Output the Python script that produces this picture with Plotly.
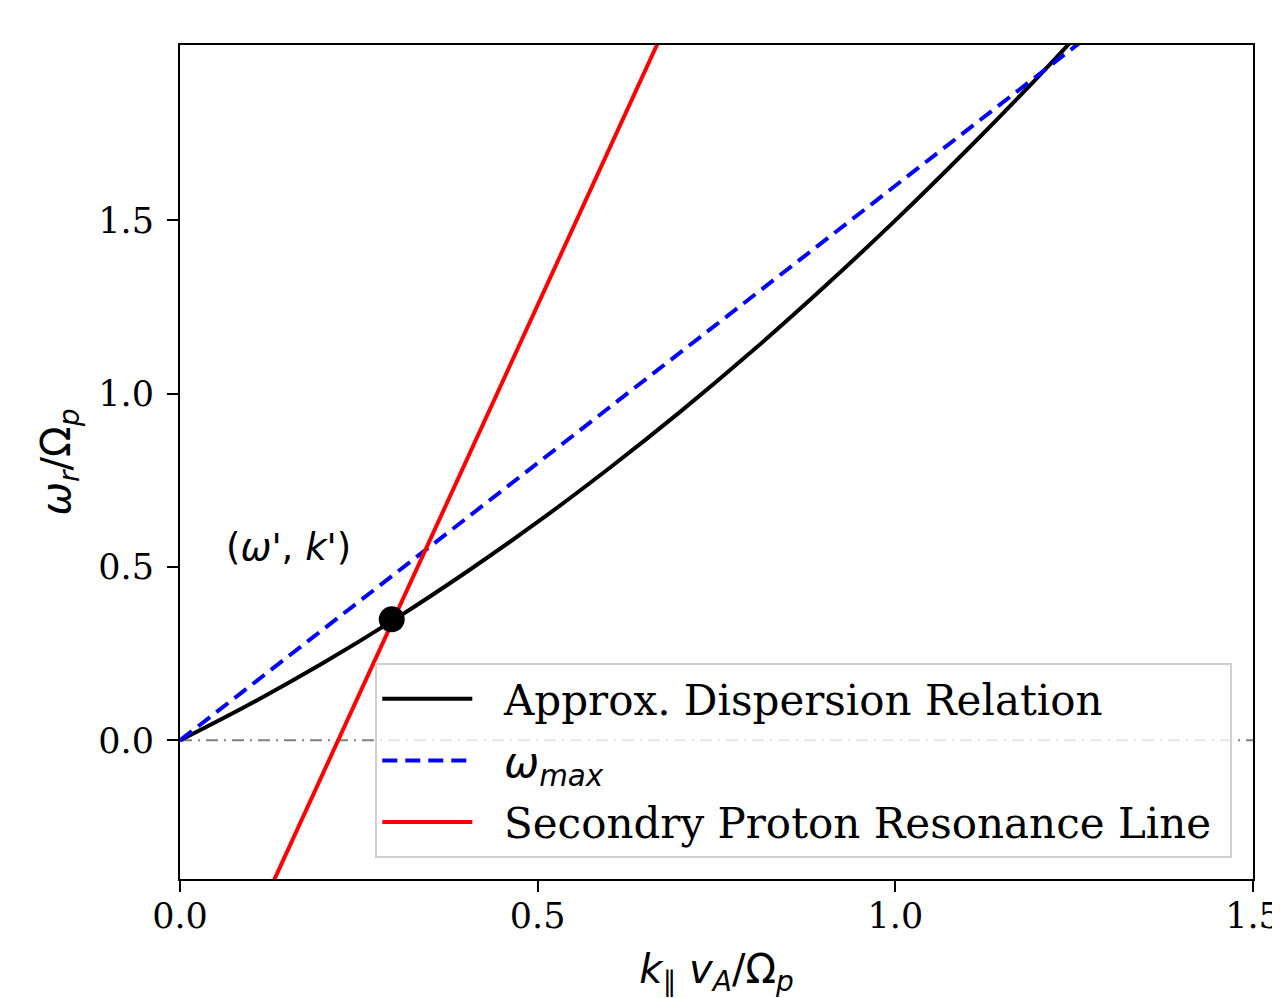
import plotly.graph_objects as go

# Approx. dispersion relation
k_disp = [0.0, 0.1, 0.2, 0.3, 0.4, 0.5, 0.6, 0.7, 0.8, 0.9, 1.0, 1.1, 1.2, 1.3]
w_disp = [0.0, 0.107, 0.223, 0.349, 0.485, 0.63, 0.785, 0.949, 1.123, 1.307, 1.5, 1.703, 1.915, 2.137]

# omega_max line
k_max = [0.0, 1.3]
w_max = [0.0, 2.08]

# Secondary proton resonance line
k_res = [0.1, 0.7]
w_res = [-0.545, 2.156]

# Intersection point (omega', k')
k_pt = [0.296]
w_pt = [0.349]

# zero line
k_zero = [0.0, 1.5]
w_zero = [0.0, 0.0]

x_ticks = [0.0, 0.5, 1.0, 1.5]
x_labels = ["0.0", "0.5", "1.0", "1.5"]
y_ticks = [0.0, 0.5, 1.0, 1.5]
y_labels = ["0.0", "0.5", "1.0", "1.5"]

PAD = "&nbsp;&nbsp;"

fig = go.Figure()
fig.add_trace(go.Scatter(x=k_zero, y=w_zero, mode="lines", showlegend=False,
                         line=dict(color="gray", width=2, dash="12px,6px,2px,6px"), hoverinfo="skip"))
fig.add_trace(go.Scatter(x=k_disp, y=w_disp, mode="lines", name=PAD + "Approx. Dispersion Relation",
                         legendgroup="a",
                         line=dict(color="black", width=4, shape="spline")))
fig.add_trace(go.Scatter(x=k_max, y=w_max, mode="lines", legendgroup="b",
                         name=PAD + "<span style='font-family:DejaVu Sans'><i>ω<sub>max</sub></i></span>",
                         line=dict(color="blue", width=4, dash="15px,8px")))
fig.add_trace(go.Scatter(x=k_res, y=w_res, mode="lines", legendgroup="c",
                         name=PAD + "Secondry Proton Resonance Line&nbsp;",
                         line=dict(color="red", width=4)))
fig.add_trace(go.Scatter(x=k_pt, y=w_pt, mode="markers", showlegend=False,
                         marker=dict(color="black", size=26)))

fig.add_annotation(x=0.152, y=0.557, xref="x", yref="y", showarrow=False,
                   text="(<i>ω'</i>, <i>k'</i>)",
                   font=dict(family="DejaVu Sans", size=37, color="black"))

axis_common = dict(showgrid=False, zeroline=False, showline=True, linecolor="black", linewidth=2,
                   mirror=True, ticks="outside", ticklen=11, tickwidth=2, tickcolor="black",
                   automargin=False, ticklabeloverflow="allow",
                   tickfont=dict(family="DejaVu Serif", size=35, color="black"))

fig.update_layout(
    width=1272, height=990,
    margin=dict(l=172, r=27, t=37, b=119),
    plot_bgcolor="white", paper_bgcolor="white",
    xaxis=dict(range=[0, 1.5], tickvals=x_ticks, ticktext=x_labels, ticklabelstandoff=-6,
               title=dict(text="<i>k</i><sub>∥</sub> <i>v<sub>A</sub></i>/Ω<sub><i>p</i></sub>",
                          font=dict(family="DejaVu Sans", size=40, color="black"), standoff=25),
               **axis_common),
    yaxis=dict(range=[-0.4, 2.006], tickvals=y_ticks, ticktext=y_labels, ticklabelstandoff=6,
               title=dict(text="<i>ω<sub>r</sub></i>/Ω<sub><i>p</i></sub>",
                          font=dict(family="DejaVu Sans", size=40, color="black"), standoff=15),
               **axis_common),
    legend=dict(x=0.182, y=0.259, xanchor="left", yanchor="top",
                bgcolor="rgba(255,255,255,0.8)", bordercolor="#d0d0d0", borderwidth=2,
                font=dict(family="DejaVu Serif", size=42, color="black"),
                itemwidth=90, tracegroupgap=4, traceorder="grouped"),
    showlegend=True,
)

fig.write_html("out.html")
